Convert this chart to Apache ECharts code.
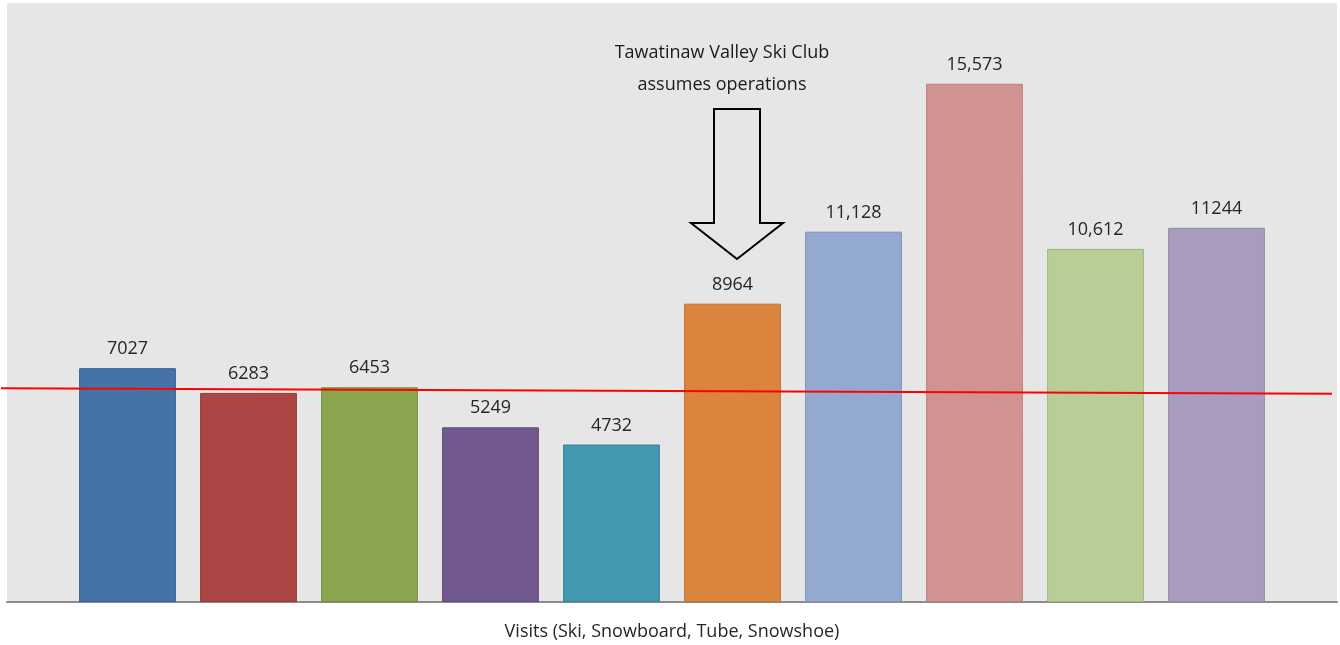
<!DOCTYPE html>
<html>
<head>
<meta charset="utf-8">
<script src="https://cdn.jsdelivr.net/npm/echarts@6/dist/echarts.min.js"></script>
<style>
  html, body { margin: 0; padding: 0; background: #ffffff; }
  #chart { width: 1340px; height: 645px; }
</style>
</head>
<body>
<div id="chart"></div>
<script>
// seasons (no labels shown on the original axis)
const seasons = ['S1', 'S2', 'S3', 'S4', 'S5', 'S6', 'S7', 'S8', 'S9', 'S10'];
const visits = [7027, 6283, 6453, 5249, 4732, 8964, 11128, 15573, 10612, 11244];
const visitLabels = ['7027', '6283', '6453', '5249', '4732', '8964', '11,128', '15,573', '10,612', '11244'];
const barColors = ['#4572a7', '#aa4643', '#89a54e', '#71588f', '#4198af', '#db843d', '#93a9cf', '#d19392', '#b9cd96', '#a99bbd'];
const barBorders = ['#3a6190', '#923b39', '#768e43', '#614b7b', '#378397', '#c07034', '#7f93b6', '#b88180', '#a3b584', '#958aa8'];
// hand drawn reference line (start, end)
const refLine = [6420, 6255];

const font = '"Open Sans", "Liberation Sans", sans-serif';

const chart = echarts.init(document.getElementById('chart'));

const option = {
  animation: false,
  textStyle: { fontFamily: font },
  grid: [
    // backdrop + axis line
    { left: 7, right: 3, top: 3, bottom: 43, show: true, backgroundColor: '#e6e6e6', borderWidth: 0, outerBoundsMode: 'none', containLabel: false },
    // bars
    { left: 67, right: 63, top: 3, bottom: 43, outerBoundsMode: 'none', containLabel: false },
    // red line overlay
    { left: 1, right: 8, top: 3, bottom: 43, outerBoundsMode: 'none', containLabel: false }
  ],
  xAxis: [
    {
      gridIndex: 0, type: 'value', min: 0, max: 1,
      axisLine: { show: true, onZero: false, lineStyle: { color: '#8c8c8c', width: 2 } },
      axisTick: { show: false }, axisLabel: { show: false }, splitLine: { show: false },
      name: 'Visits (Ski, Snowboard, Tube, Snowshoe)',
      nameLocation: 'middle', nameGap: 21,
      nameTextStyle: { fontSize: 18, color: '#262626', fontFamily: font }
    },
    {
      gridIndex: 1, type: 'category', data: seasons,
      axisLine: { show: false }, axisTick: { show: false }, axisLabel: { show: false }
    },
    {
      gridIndex: 2, type: 'value', min: 0, max: 1, show: false
    }
  ],
  yAxis: [
    { gridIndex: 0, type: 'value', min: 0, max: 18000, show: false },
    { gridIndex: 1, type: 'value', min: 0, max: 18000, show: false },
    { gridIndex: 2, type: 'value', min: 0, max: 18000, show: false }
  ],
  series: [
    {
      type: 'bar',
      xAxisIndex: 1, yAxisIndex: 1,
      barCategoryGap: '20%',
      data: visits.map((v, i) => ({
        value: v,
        itemStyle: { color: barColors[i], borderColor: barBorders[i], borderWidth: 1 }
      })),
      label: {
        show: true, position: 'top', distance: 10,
        fontSize: 18, color: '#262626', fontFamily: font,
        formatter: p => visitLabels[p.dataIndex]
      }
    },
    {
      type: 'line',
      xAxisIndex: 2, yAxisIndex: 2,
      data: [[0, refLine[0]], [1, refLine[1]]],
      symbol: 'none',
      lineStyle: { color: '#ff0000', width: 2 },
      z: 5
    }
  ],
  graphic: [
    {
      type: 'text', x: 722, y: 53, z: 10,
      style: {
        text: 'Tawatinaw Valley Ski Club', align: 'center', verticalAlign: 'middle',
        font: '18px ' + font, fill: '#1a1a1a'
      }
    },
    {
      type: 'text', x: 722, y: 85, z: 10,
      style: {
        text: 'assumes operations', align: 'center', verticalAlign: 'middle',
        font: '18px ' + font, fill: '#1a1a1a'
      }
    },
    {
      type: 'polygon', z: 10,
      shape: { points: [[714, 109], [760, 109], [760, 223], [783, 223], [737, 259], [691, 223], [714, 223]] },
      style: { fill: 'rgba(0,0,0,0)', stroke: '#000000', lineWidth: 2 }
    }
  ]
};

chart.setOption(option);
</script>
</body>
</html>
